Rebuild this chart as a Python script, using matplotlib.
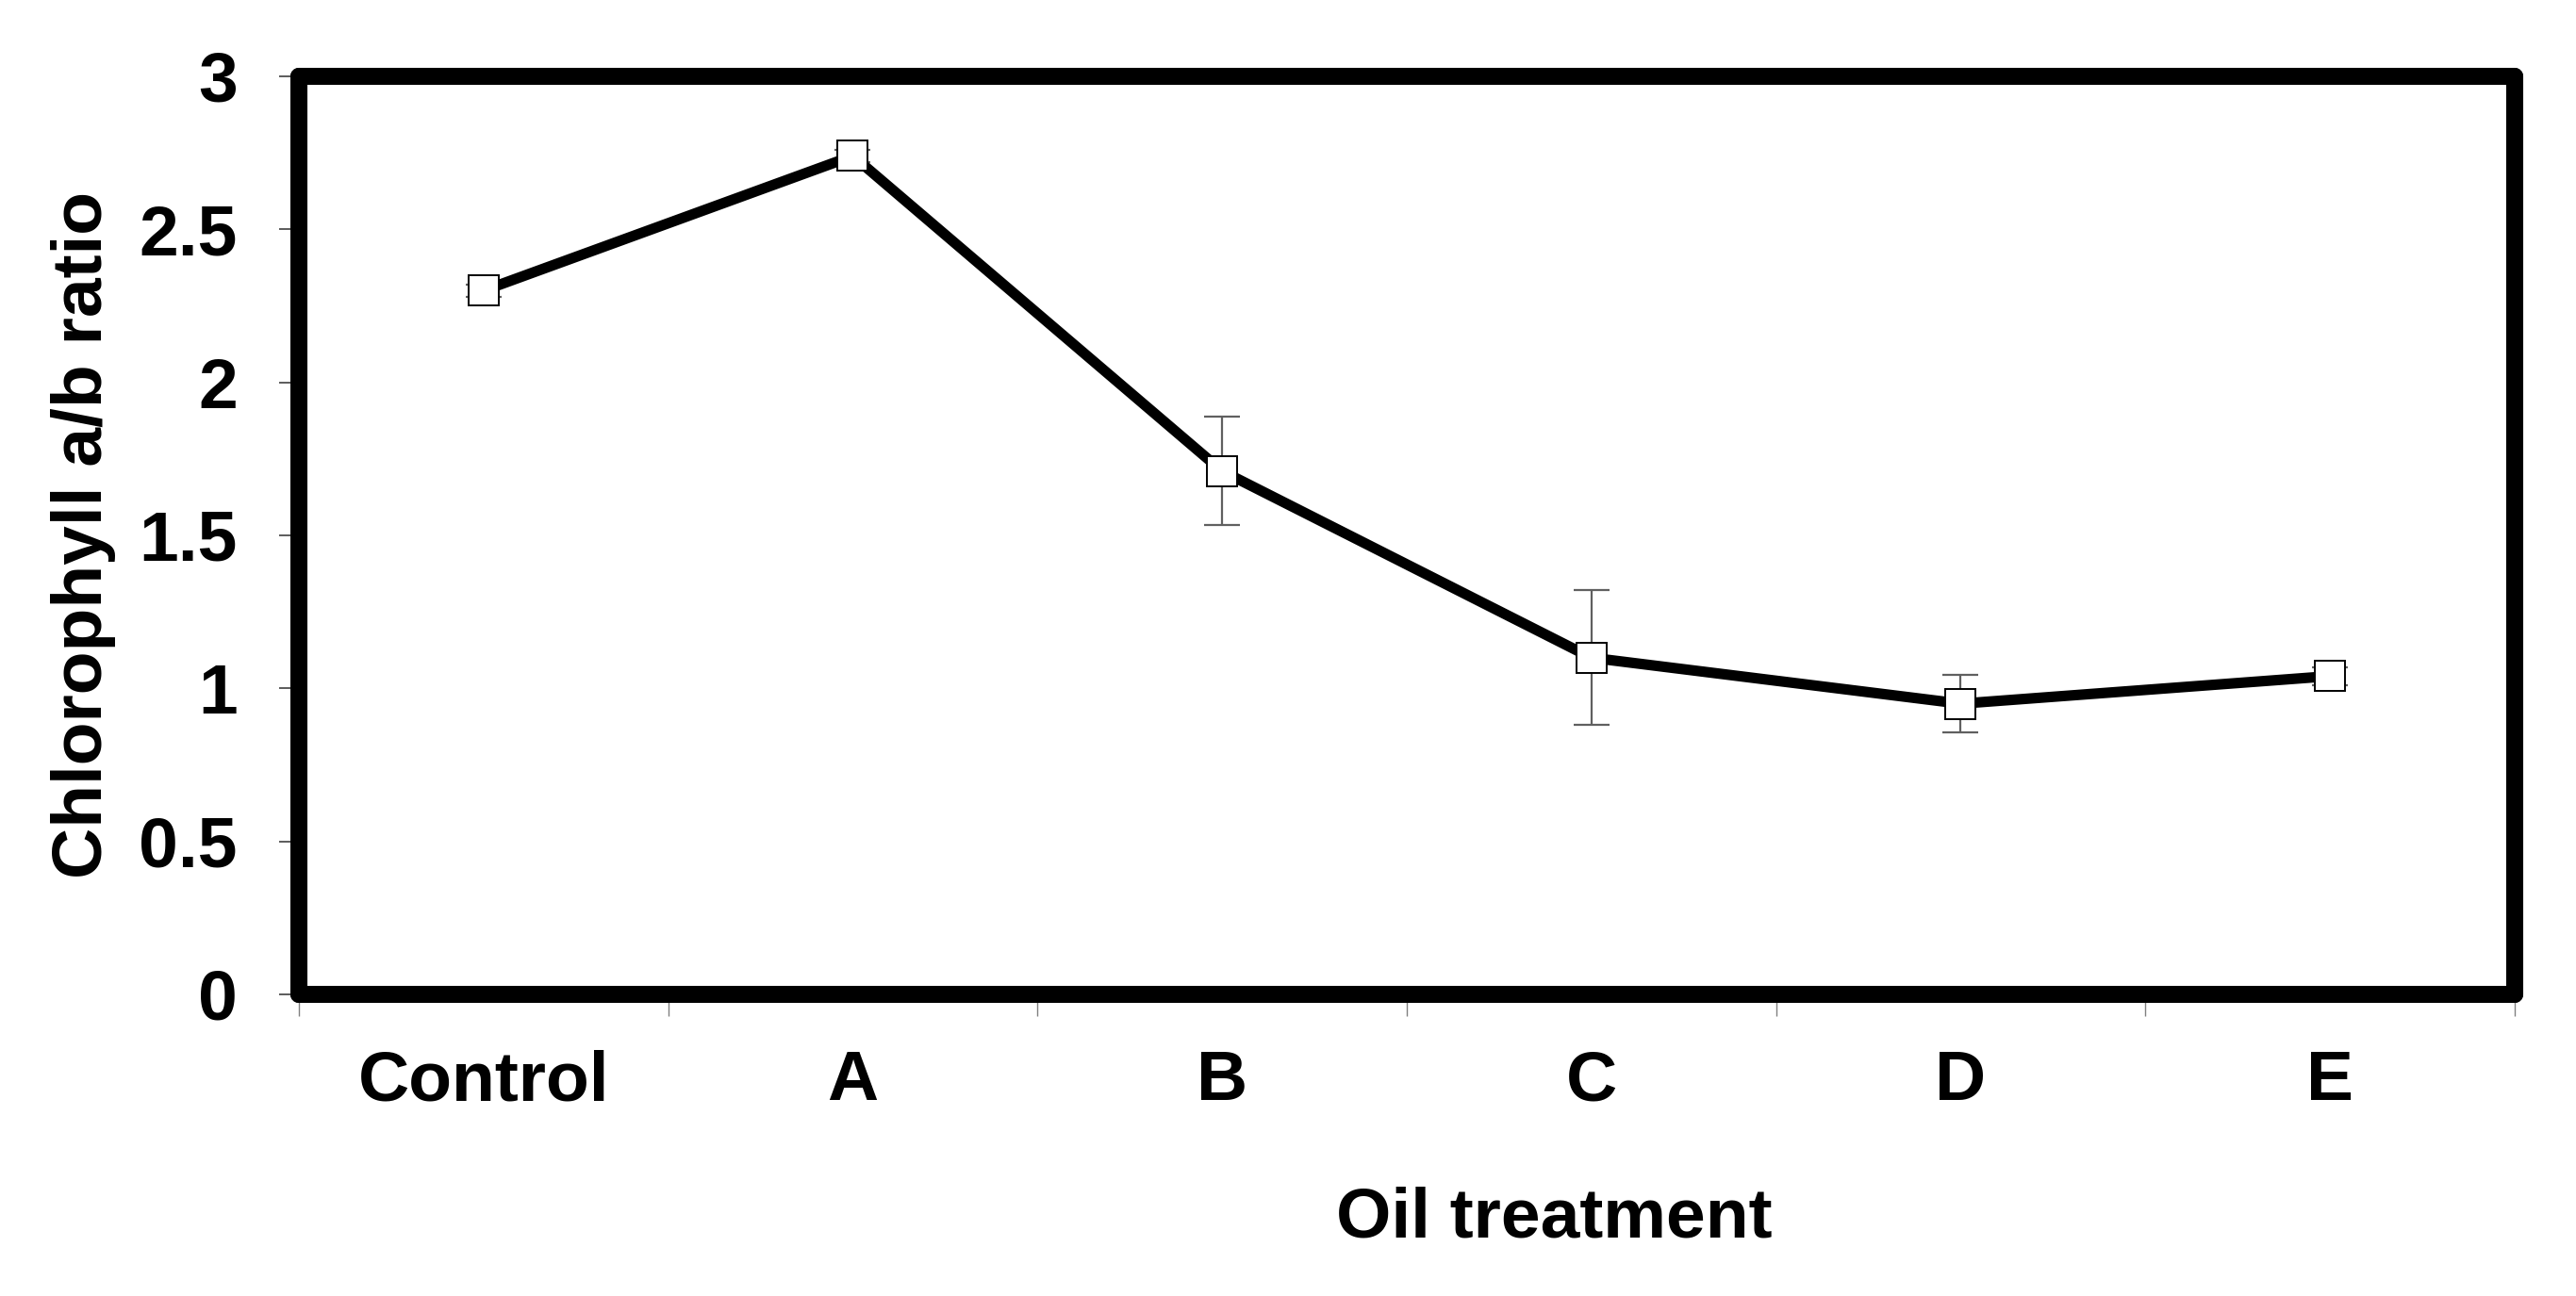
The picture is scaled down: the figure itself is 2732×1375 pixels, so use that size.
import matplotlib
matplotlib.use("Agg")
import matplotlib.pyplot as plt
import numpy as np

categories = ["Control", "A", "B", "C", "D", "E"]
ratio = [2.30, 2.74, 1.71, 1.10, 0.95, 1.04]
ratio_err = [0.02, 0.02, 0.177, 0.22, 0.093, 0.03]
y_ticks = [0, 0.5, 1, 1.5, 2, 2.5, 3]
y_tick_labels = ["0", "0.5", "1", "1.5", "2", "2.5", "3"]

plt.rcParams['font.family'] = ['Liberation Sans', 'DejaVu Sans']
plt.rcParams['font.weight'] = 'bold'

W, H, DPI = 2732, 1375, 200
fig = plt.figure(figsize=(W / DPI, H / DPI), dpi=DPI)
fig.patch.set_facecolor('white')
ax = fig.add_axes([317 / W, 1 - 1055 / H, (2667 - 317) / W, (1055 - 81) / H])

x = np.arange(len(categories)) + 0.5
ax.errorbar(x, ratio, yerr=ratio_err, fmt='none', ecolor='#606060',
            elinewidth=0.8, capsize=6.8, capthick=0.8, zorder=2)
ax.plot(x, ratio, color='black', linewidth=4.0, zorder=3,
        marker='s', markersize=11.8, markerfacecolor='white',
        markeredgecolor='black', markeredgewidth=0.7)

ax.set_xlim(0, len(categories))
ax.set_ylim(0, 3)

ax.set_xticks(np.arange(len(categories) + 1))
ax.set_xticklabels([])
ax.set_xticks(x, minor=True)
ax.set_xticklabels(categories, minor=True, fontsize=27, fontweight='bold')
ax.tick_params(axis='x', which='major', direction='out', length=8.3,
               width=0.5, color='#808080')
ax.tick_params(axis='x', which='minor', length=0, pad=21)

ax.set_yticks(y_ticks)
ax.set_yticklabels(y_tick_labels, fontsize=27, fontweight='bold')
ax.tick_params(axis='y', which='major', direction='out', length=7.5,
               width=0.6, color='#404040', pad=16)

for s in ax.spines.values():
    s.set_linewidth(6.5)
    s.set_color('black')
    s.set_capstyle('round')
    s.set_zorder(5)

ax.set_ylabel("Chlorophyll a/b ratio", fontsize=27, fontweight='bold')
ax.yaxis.set_label_coords(-0.0973, 0.5)
ax.yaxis.label.set_va('center')
ax.set_xlabel("Oil treatment", fontsize=27, fontweight='bold')
ax.xaxis.set_label_coords(0.5665, -0.244)
ax.xaxis.label.set_va('center')

fig.savefig("out.png", dpi=DPI, facecolor='white')
